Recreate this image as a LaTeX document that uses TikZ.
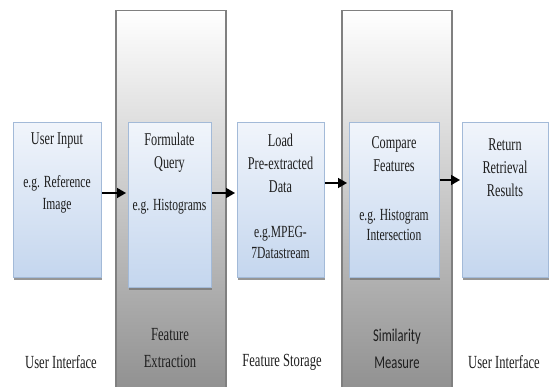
\documentclass[tikz,border=0pt]{standalone}
\usepackage{fontspec}
\setmainfont{Liberation Serif}[FakeStretch=0.68]
\newfontfamily\simfont{Carlito}[FakeStretch=0.7]
\usetikzlibrary{arrows.meta,shadows}

\definecolor{boxline}{HTML}{A3BAD8}
\definecolor{boxtop}{HTML}{F1F5FB}
\definecolor{boxbot}{HTML}{C4D6EE}
\definecolor{txt}{HTML}{1E1E1E}

\tikzset{
  stage/.style={draw=black!50, line width=1.5pt, top color=white,
    middle color=black!16, bottom color=black!44, anchor=north west,
    minimum width=110pt, minimum height=385pt, inner sep=0pt},
  procbox/.style={draw=boxline, line width=0.8pt, top color=boxtop,
    bottom color=boxbot, anchor=north west, inner sep=0pt,
    drop shadow={shadow xshift=0.8pt, shadow yshift=-3pt, fill=black!55, opacity=0.75}},
  label/.style={text=txt, align=center, font=\fontsize{18}{23}\selectfont},
  arr/.style={line width=1.5pt, -{Triangle[length=9pt,width=10pt]}, shorten >=2pt},
}

\begin{document}
\begin{tikzpicture}[x=1pt, y=-1pt]
\useasboundingbox (0,0) rectangle (549,387);

% grey stage columns
\node[stage] (fx) at (115,10) {};
\node[stage] (sm) at (341,10) {};

% process boxes
\node[procbox, minimum width=88pt, minimum height=155pt] (ui)  at (13,122) {};
\node[procbox, minimum width=83pt, minimum height=165pt] (fq)  at (128,122) {};
\node[procbox, minimum width=87pt, minimum height=155pt] (ld)  at (237,122) {};
\node[procbox, minimum width=90pt, minimum height=155pt] (cf)  at (349,122) {};
\node[procbox, minimum width=86pt, minimum height=155pt] (rr)  at (462,122) {};

% box texts
\node[label] (uiA) at (57,141) {User Input};
\node[label, font=\fontsize{17}{22}\selectfont] (uiB) at (57,194) {e.g. Reference\\Image};

\node[label] (fqA) at (169.5,153) {Formulate\\Query};
\node[label, font=\fontsize{17}{22}\selectfont] (fqB) at (169.5,207) {e.g. Histograms};

\node[label] (ldA) at (280.5,163.5) {Load\\Pre-extracted\\Data};
\node[label, font=\fontsize{17}{21}\selectfont] (ldB) at (280.5,242.5) {e.g.MPEG-\\7Datastream};

\node[label] (cfA) at (394,154.5) {Compare\\Features};
\node[label, font=\fontsize{17}{20}\selectfont] (cfB) at (394,225) {e.g. Histogram\\Intersection};

\node[label] (rrA) at (505,167.5) {Return\\Retrieval\\Results};

% layer captions
\node[label, font=\fontsize{18.5}{27}\selectfont] (c1) at (61,362) {User Interface};
\node[label, font=\fontsize{18.5}{27}\selectfont] (c2) at (170,348.5) {Feature\\Extraction};
\node[label, font=\fontsize{18.5}{27}\selectfont] (c3) at (282,362) {Feature Storage};
\node[label, font=\simfont\fontsize{18}{27}\selectfont] (c4) at (397,348.5) {Similarity\\Measure};
\node[label, font=\fontsize{18.5}{27}\selectfont] (c5) at (504,362) {User Interface};

% flow arrows
\draw[arr] (ui.east |- 0,193) -- (fq.west |- 0,193);
\draw[arr] (fq.east |- 0,193) -- (ld.west |- 0,193);
\draw[arr] (ld.east |- 0,183) -- (cf.west |- 0,183);
\draw[arr] (cf.east |- 0,180) -- (rr.west |- 0,180);
\end{tikzpicture}
\end{document}
